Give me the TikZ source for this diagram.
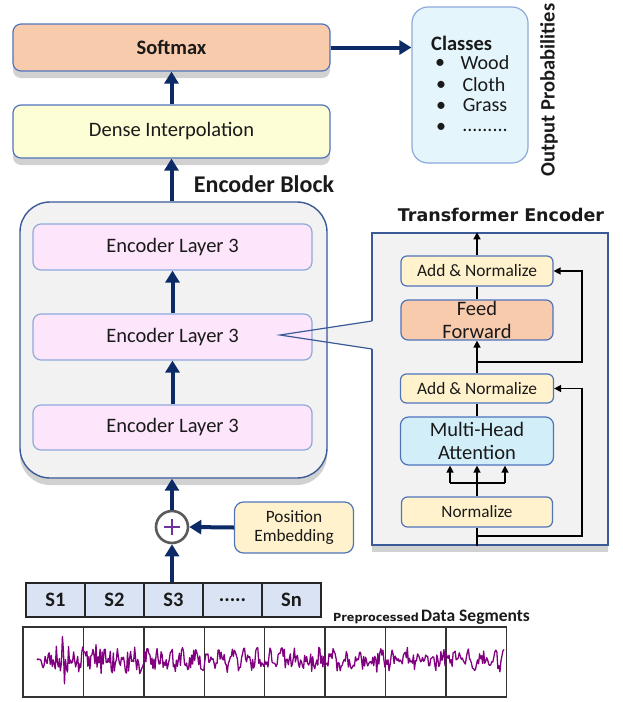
\documentclass[tikz,border=0pt]{standalone}
\usepackage{fontspec}
\setmainfont{Carlito}
\newfontfamily\dvsans{DejaVu Sans}
\usetikzlibrary{arrows.meta,shadows}
\definecolor{bluebd}{HTML}{4F74BC}
\definecolor{lightbd}{HTML}{8EA9DB}
\definecolor{encbd}{HTML}{3A5A98}
\definecolor{softfill}{HTML}{F8CBAD}
\definecolor{densefill}{HTML}{FDFDD6}
\definecolor{clsfill}{HTML}{E4F6FC}
\definecolor{encfill}{HTML}{F2F2F2}
\definecolor{layfill}{HTML}{FDE6FB}
\definecolor{annfill}{HTML}{FFF2CC}
\definecolor{mhafill}{HTML}{D2EEF9}
\definecolor{segfill}{HTML}{DAE3F3}
\definecolor{wavecol}{HTML}{800080}
\definecolor{arrnavy}{HTML}{0B2A66}
\definecolor{plusgray}{HTML}{5A5A5A}
\definecolor{pluspurple}{HTML}{7030A0}
\definecolor{txt}{HTML}{1A1A1A}
\newcommand\fsz[2]{\fontsize{#1}{#2}\selectfont}
\newcommand\fivedots{.....}
\begin{document}
\begin{tikzpicture}[x=1pt,y=-1pt,
  box/.style={draw=bluebd, line width=1.2pt, rounded corners=8pt, inner sep=0pt, align=center, text=txt},
  shad/.style={drop shadow={shadow xshift=0pt,shadow yshift=-7pt,opacity=0.18,fill=black}},
  navyarr/.style={draw=arrnavy, line width=4pt, -{Triangle[width=14pt,length=12pt]}},
  blk/.style={draw=black, line width=1.4pt, -{Triangle[width=7pt,length=7pt]}},
  blkline/.style={draw=black, line width=1.4pt},
  segbox/.style={draw=black!85, line width=1.4pt, fill=segfill, minimum width=59pt, minimum height=34pt, inner sep=0pt, font=\fsz{20.5}{24}\bfseries, text=txt},
  wavebox/.style={draw=black!80, line width=1.4pt, fill=white, minimum width=60.4pt, minimum height=70pt, inner sep=0pt},
  lbl/.style={inner sep=0pt, text=txt}]
\useasboundingbox (0,0) rectangle (623,702);

% top part
\node[box, fill=softfill, minimum width=317pt, minimum height=47pt, shad, font=\fsz{20.5}{24}\bfseries] (softmax) at (171.5,47.5) {Softmax};
\node[box, fill=densefill, minimum width=317pt, minimum height=53pt, shad, font=\fsz{20.5}{24}] (dense) at (171.5,131.5) {Dense Interpolation};
\node[box, draw=lightbd, fill=clsfill, minimum width=116pt, minimum height=156pt, rounded corners=16pt] (classes) at (470,85) {};
\node[lbl, anchor=west, font=\fsz{20.5}{24}\bfseries] (clst) at (431,43) {Classes};
\node[lbl, font=\fsz{20}{24}] (bu1) at (440,64) {•};
\node[lbl, font=\fsz{20}{24}] (bu2) at (441,86) {•};
\node[lbl, font=\fsz{20}{24}] (bu3) at (441,107) {•};
\node[lbl, font=\fsz{20}{24}] (bu4) at (441,128) {•};
\node[lbl, font=\fsz{20}{24}] (it1) at (485,63) {Wood};
\node[lbl, font=\fsz{20}{24}] (it2) at (484,85) {Cloth};
\node[lbl, font=\fsz{20}{24}] (it3) at (485,105.5) {Grass};
\node[lbl, anchor=base, font=\fsz{20}{24}] (it4) at (485,131) {.........};
\node[lbl, rotate=90, font=\fsz{20.5}{24}\bfseries] (outp) at (549,90) {Output Probabilities};

\draw[navyarr] (dense.north) -- (softmax.south);
\draw[navyarr] (softmax.east) -- (softmax.east -| classes.west);

% transformer encoder box
\node[draw=encbd, line width=1.4pt, fill=encfill, minimum width=236pt, minimum height=312pt, inner sep=0pt, shad] (tbox) at (490,389) {};
\node[lbl, font=\dvsans\bfseries\fsz{17.5}{20}] (tel) at (501,215) {Transformer Encoder};
\coordinate (ctip) at (280,335);
\coordinate (ctop) at (372,321);
\coordinate (cbot) at (372,349);
\fill[encfill] (ctip) -- (374,320.7) -- (374,349.3) -- cycle;

% encoder block
\node[draw=encbd, line width=1.4pt, fill=encfill, minimum width=307pt, minimum height=276pt, rounded corners=30pt, shad] (enc) at (173.5,340) {};
\node[lbl, font=\fsz{24}{28}\bfseries] (encl) at (264,184) {Encoder Block};
\node[box, draw=lightbd, fill=layfill, minimum width=279pt, minimum height=46pt, font=\fsz{20.5}{24}] (l3) at (172.5,247) {Encoder Layer 3};
\node[box, draw=lightbd, fill=layfill, minimum width=279pt, minimum height=46pt, font=\fsz{20.5}{24}] (l2) at (172.5,337) {Encoder Layer 3};
\node[box, draw=lightbd, fill=layfill, minimum width=279pt, minimum height=45pt, font=\fsz{20.5}{24}] (l1) at (172.5,427.5) {Encoder Layer 3};
\draw[encbd, line width=1.2pt] (ctop) -- (ctip) -- (cbot);
\draw[navyarr] (l1.north) -- (l2.south);
\draw[navyarr] (l2.north) -- (l3.south);
\draw[navyarr] (enc.north -| dense.south) -- (dense.south);

% transformer internals
\node[box, fill=annfill, minimum width=152pt, minimum height=30pt, rounded corners=6pt, font=\fsz{17.4}{20}] (an1) at (477,271) {Add \& Normalize};
\node[box, fill=softfill, minimum width=152pt, minimum height=40pt, rounded corners=7pt, font=\fsz{20.5}{23}] (ff) at (477,320) {Feed\\Forward};
\node[box, fill=annfill, minimum width=153pt, minimum height=29pt, rounded corners=6pt, font=\fsz{17.4}{20}] (an2) at (477,388.5) {Add \& Normalize};
\node[box, fill=mhafill, minimum width=153pt, minimum height=48pt, rounded corners=8pt, font=\fsz{20.5}{23}] (mha) at (477,441) {Multi-Head\\Attention};
\node[box, fill=annfill, minimum width=151pt, minimum height=30pt, rounded corners=6pt, font=\fsz{17.2}{20}] (norm) at (477,512) {Normalize};

\draw[blk] (an1.north) -- (an1.north |- tbox.north);
\draw[blkline] (ff.north) -- (an1.south);
\draw[blk] (an2.north) -- (ff.south);
\draw[blkline] (mha.north) -- (an2.south);
\draw[blk] (norm.north) -- (mha.south);
\coordinate (ml) at (450,483);
\coordinate (mr) at (505,483);
\draw[blkline] (ml) -- (mr);
\draw[blk] (ml) -- (ml |- mha.south);
\draw[blk] (mr) -- (mr |- mha.south);
\draw[blkline] (tbox.south -| norm.south) -- (norm.south);
\coordinate (b1) at (477,362);
\coordinate (c1) at (582,362);
\draw[blk] (b1) -- (c1) |- (an1.east);
\coordinate (b2) at (477,536);
\coordinate (c2) at (582,536);
\draw[blk] (b2) -- (c2) |- (an2.east);

% input part
\node[circle, draw=plusgray, line width=2.6pt, fill=white, minimum size=32pt, inner sep=0pt] (plus) at (172,527) {};
\draw[pluspurple, line width=2.2pt] ([xshift=-8pt]plus.center) -- ([xshift=8pt]plus.center);
\draw[pluspurple, line width=2.2pt] ([yshift=-8pt]plus.center) -- ([yshift=8pt]plus.center);
\node[box, fill=annfill, minimum width=119pt, minimum height=51pt, rounded corners=9pt, font=\fsz{17.3}{19.5}] (pos) at (294,527.5) {Position\\Embedding};
\draw[navyarr] (pos.west) -- (plus.east);
\draw[navyarr] (plus.north) -- (plus.north |- enc.south);

\node[segbox] (s1) at (55.5,600) {S1};
\node[segbox] (s2) at (114.5,600) {S2};
\node[segbox] (s3) at (173.5,600) {S3};
\node[segbox] (s4) at (232.5,600) {\fivedots};
\node[segbox] (s5) at (291.5,600) {Sn};
\draw[navyarr] (plus.south |- s3.north) -- (plus.south);

\node[lbl, anchor=west] (pp) at (333,617) {{\dvsans\bfseries\fsz{11.2}{13}Preprocessed} {\bfseries\fsz{17.5}{20}Data Segments}};

\foreach \k in {0,...,7}
  \node[wavebox] (w\k) at ({23+30.2+60.4*\k},662) {};
\pgfmathsetseed{11}
\draw[wavecol, line width=1.3pt, line join=round] plot[domain=37:504, samples=460, variable=\t]
  (\t, {660 + (9 + 24*max(0,1-abs(\t-63)/9) + 5*max(0,1-abs(\t-110)/40))*rand + 4*sin(\t*29)});
\end{tikzpicture}
\end{document}
